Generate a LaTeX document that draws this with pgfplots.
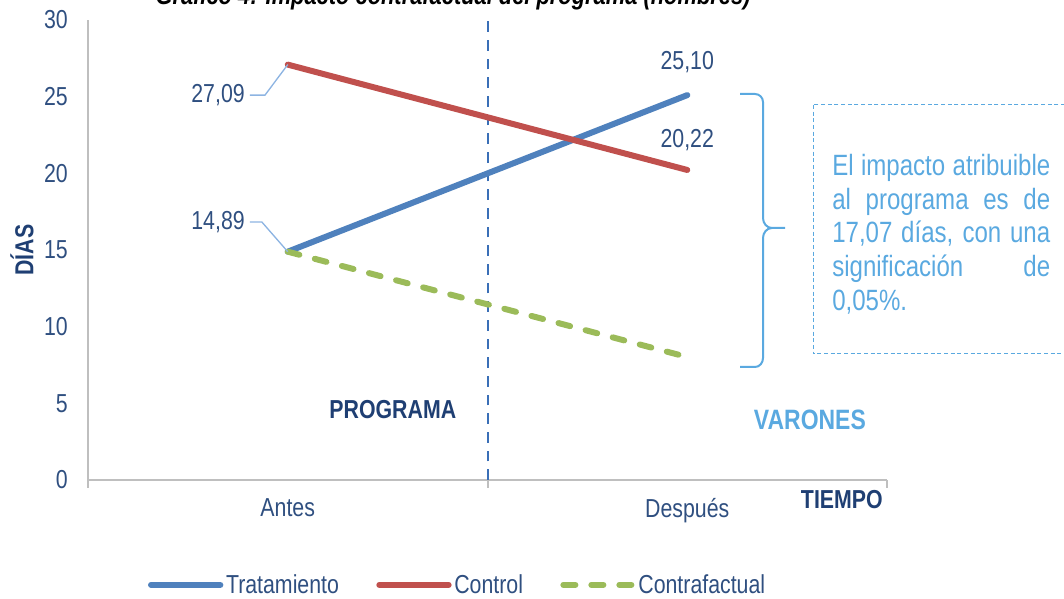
\documentclass[border=0pt]{standalone}
\usepackage{pgfplots}
\pgfplotsset{compat=1.18}
\usepackage{fontspec}
\setmainfont{Liberation Sans}[FakeStretch=0.82]
\definecolor{trat}{HTML}{4F81BD}
\definecolor{ctrl}{HTML}{C0504D}
\definecolor{cf}{HTML}{9BBB59}
\definecolor{txt}{HTML}{2F4F80}
\definecolor{dkb}{HTML}{1F3F73}
\definecolor{lb}{HTML}{5AA9E0}
\definecolor{lead}{HTML}{8DB4E2}
\definecolor{ax}{HTML}{BFBFBF}
\definecolor{vdash}{HTML}{3A6FB7}
\begin{document}
\begin{tikzpicture}[x=0.75pt,y=0.75pt]
\path[use as bounding box] (0,0) rectangle (1064,599);
\clip (0,0) rectangle (1064,599);
\node[anchor=base, font=\fontsize{20}{22}\selectfont\bfseries\itshape, text=black, inner sep=0pt] at (453,594) {Gráfico 4: Impacto contrafactual del programa (hombres)};
\begin{axis}[
 at={(66pt,89.25pt)}, anchor=south west,
 scale only axis, width=599.25pt, height=345pt,
 xmin=0, xmax=2, ymin=0, ymax=30,
 axis x line=bottom, axis y line=left,
 axis line style={ax, line width=1.5pt, -},
 xtick={0,1,2}, xticklabels={},
 major tick length=6pt, tick align=outside,
 tick style={ax, line width=1.5pt},
 y tick style={draw=none},
 extra x ticks={0.5,1.5}, extra x tick labels={Antes,Después},
 extra x tick style={major tick length=0pt, tick label style={anchor=north, inner sep=0pt, yshift=-13.5pt}},
 ytick={0,5,...,30},
 /pgf/number format/assume math mode=true,
 yticklabel style={anchor=east, inner sep=0pt, xshift=-9pt},
 tick label style={font=\fontsize{19.5}{22}\selectfont, text=txt},
 clip=false,
 legend columns=3,
 legend style={at={(0.463,-0.228)}, anchor=center, draw=none, fill=none,
   font=\fontsize{19.5}{22}\selectfont, text=txt,
   /tikz/every even column/.append style={column sep=26pt}},
 legend image code/.code={\draw[#1] (0pt,0pt) -- (52pt,0pt);},
]
\addplot[vdash, line width=1.5pt, dash pattern=on 8pt off 6pt, forget plot] coordinates {(1,0) (1,30)};
\addplot[trat, line width=4.5pt, line cap=round] coordinates {(0.5,14.89) (1.5,25.10)};
\addlegendentry{Tratamiento}
\addplot[ctrl, line width=4.5pt, line cap=round] coordinates {(0.5,27.09) (1.5,20.22)};
\addlegendentry{Control}
\addplot[cf, line width=4.5pt, line cap=round, dash pattern=on 9pt off 12pt] coordinates {(0.5,14.89) (1.5,8.02)};
\addlegendentry{Contrafactual}
\draw[lead, line width=1pt] (axis cs:0.405,25.1) -- (axis cs:0.443,25.1) -- (axis cs:0.5,27.09);
\draw[lead, line width=1pt] (axis cs:0.405,16.83) -- (axis cs:0.435,16.83) -- (axis cs:0.5,14.89);
\node[anchor=east, inner sep=0pt, text=txt, font=\fontsize{19.5}{22}\selectfont] at (axis cs:0.393,25.1) {27,09};
\node[anchor=east, inner sep=0pt, text=txt, font=\fontsize{19.5}{22}\selectfont] at (axis cs:0.393,16.83) {14,89};
\node[inner sep=0pt, text=txt, font=\fontsize{19.5}{22}\selectfont] at (axis cs:1.5,27.27) {25,10};
\node[inner sep=0pt, text=txt, font=\fontsize{19.5}{22}\selectfont] at (axis cs:1.5,22.18) {20,22};
\node[inner sep=0pt, text=dkb, font=\fontsize{19.5}{22}\selectfont\bfseries] at (axis cs:0.763,4.57) {PROGRAMA};
\node[inner sep=0pt, text=lb, font=\fontsize{21}{24}\selectfont\bfseries] at (axis cs:1.807,3.91) {VARONES};
\node[inner sep=0pt, text=dkb, font=\fontsize{19.5}{22}\selectfont\bfseries] at (axis cs:1.887,-1.30) {TIEMPO};
\end{axis}
\node[rotate=90, inner sep=0pt, text=dkb, font=\fontsize{19.5}{22}\selectfont\bfseries] at (22,349) {DÍAS};
\draw[lb, line width=1.5pt] (740,505) -- (755,505) to[out=0,in=90] (763,497) -- (763,381) to[out=-90,in=180] (772,371) -- (785,371);
\draw[lb, line width=1.5pt] (772,371) to[out=180,in=90] (763,361) -- (763,241) to[out=-90,in=0] (755,232) -- (740,232);
\draw[lb, line width=0.75pt, dash pattern=on 3pt off 2pt] (813,494) rectangle (1080,245);
\node[anchor=north west, inner sep=0pt, text width=163.5pt, align=justify, text=lb, font=\fontsize{22}{25.3}\selectfont] at (832,445) {\hyphenpenalty=10000 El impacto atribuible\linebreak al programa es de\linebreak 17,07 días, con una\linebreak significación de\linebreak 0,05\%.};
\end{tikzpicture}
\end{document}
